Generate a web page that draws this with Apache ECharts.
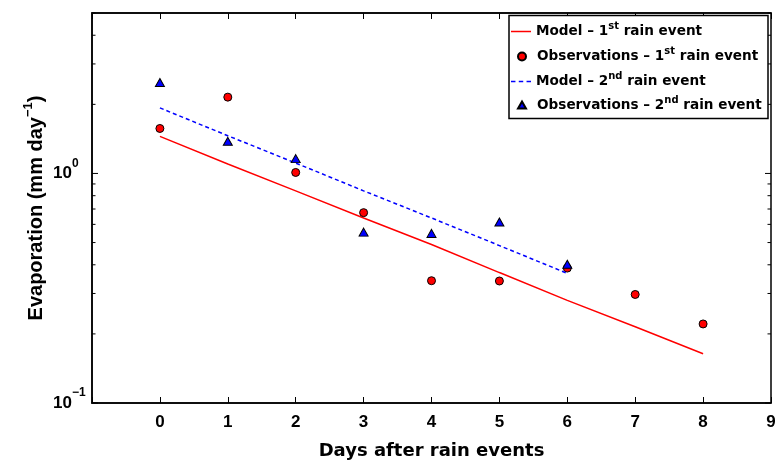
<!DOCTYPE html>
<html>
<head>
<meta charset="utf-8">
<title>Evaporation after rain events</title>
<script src="https://cdn.jsdelivr.net/npm/echarts@6/dist/echarts.min.js"></script>
<style>
  html, body { margin: 0; padding: 0; background: #fff; }
  #chart { width: 775px; height: 461px; }
</style>
</head>
<body>
<div id="chart"></div>
<script>
// Days after each rain event
const days1 = [0, 1, 2, 3, 4, 5, 6, 7, 8];
const days2 = [0, 1, 2, 3, 4, 5, 6];

// Evaporation (mm/day): model and observations, 1st rain event
const model1 = [1.45, 1.10, 0.84, 0.64, 0.49, 0.37, 0.28, 0.215, 0.164];
const obs1 = [1.57, 2.15, 1.01, 0.675, 0.341, 0.340, 0.387, 0.297, 0.221];

// Evaporation (mm/day): model and observations, 2nd rain event
const model2 = [1.93, 1.46, 1.11, 0.84, 0.64, 0.485, 0.367];
const obs2 = [2.49, 1.38, 1.16, 0.555, 0.548, 0.614, 0.402];

// Log-axis ticks (decades and the sub-decade marks)
const yTicks = [0.1, 0.2, 0.3, 0.4, 0.5, 0.6, 0.7, 0.8, 0.9, 1, 2, 3, 4, 5];
const xTicks = [0, 1, 2, 3, 4, 5, 6, 7, 8, 9];

const seriesNames = [
  'Model \u2013 1{s|st} rain event',
  'Observations \u2013 1{s|st} rain event',
  'Model \u2013 2{s|nd} rain event',
  'Observations \u2013 2{s|nd} rain event'
];

const pairs = (xs, ys) => xs.map((x, i) => [x, ys[i]]);

const FONT_T = 'DejaVu Sans';
const FONT_L = 'Liberation Sans';

// Legend keys; the leading moves pad every key to the same 20-unit width
const legendIcons = [
  'path://M0,0h20v1.5h-20z',
  'path://M0,4M20,4M6,4a4,4 0 1,0 8,0a4,4 0 1,0 -8,0z',
  'path://M0,0h4v1.5h-4zM7,0h4v1.5h-4zM14,0h4v1.5h-4z',
  'path://M0,0M20,8M10,0L14,7L6,7z'
];
const legendHeights = [1.5, 8, 1.5, 8];

const legendText = {
  fontFamily: FONT_T, fontWeight: 'bold', fontSize: 13.6, color: '#000', lineHeight: 20,
  rich: {
    s: { fontFamily: FONT_T, fontWeight: 'bold', fontSize: 10, lineHeight: 10, verticalAlign: 'top', color: '#000' }
  }
};
const rowCenters = [31.5, 56.5, 81.5, 105.5];
const legends = seriesNames.map((n, i) => ({
  data: [{ name: n, icon: legendIcons[i] }],
  left: 511,
  top: rowCenters[i] - 10,
  orient: 'vertical',
  padding: 0,
  itemWidth: 20,
  itemHeight: legendHeights[i],
  symbolKeepAspect: false,
  selectedMode: false,
  textStyle: legendText,
  z: 10
}));

const chart = echarts.init(document.getElementById('chart'), null, { renderer: 'canvas' });

const option = {
  animation: false,
  backgroundColor: '#fff',
  grid: {
    left: 92, right: 4, top: 13, bottom: 58,
    outerBoundsMode: 'none', containLabel: false,
    show: true, borderColor: '#000', borderWidth: 1.5, backgroundColor: '#fff'
  },
  legend: legends,
  graphic: [{
    type: 'rect',
    shape: { x: 509, y: 15.5, width: 259, height: 103 },
    style: { fill: '#fff', stroke: '#000', lineWidth: 1.5 },
    z: 5
  }],
  xAxis: [{
    type: 'value', min: -1, max: 9, interval: 1,
    name: 'Days after rain events',
    nameLocation: 'middle', nameGap: 39, nameMoveOverlap: false,
    nameTextStyle: { fontFamily: FONT_T, fontWeight: 'bold', fontSize: 18, color: '#000' },
    axisLine: { show: true, onZero: false, lineStyle: { color: '#000', width: 1.5 } },
    axisTick: { show: true, inside: true, length: 6, lineStyle: { color: '#000', width: 1 } },
    axisLabel: {
      margin: 11, color: '#000', fontFamily: FONT_L, fontWeight: 'bold', fontSize: 17,
      formatter: v => (xTicks.indexOf(v) >= 0 ? String(v) : '')
    },
    splitLine: { show: false }
  }, {
    type: 'value', min: -1, max: 9, interval: 1, position: 'top',
    axisLine: { show: true, onZero: false, lineStyle: { color: '#000', width: 1.5 } },
    axisTick: { show: true, inside: true, length: 6, lineStyle: { color: '#000', width: 1 } },
    axisLabel: { show: false },
    splitLine: { show: false }
  }],
  yAxis: [{
    type: 'log', logBase: 10, min: 0.1, max: 5,
    name: 'Evaporation (mm day{s|\u22121})',
    nameLocation: 'middle', nameGap: 42, nameRotate: 90, nameMoveOverlap: false,
    nameTextStyle: {
      fontFamily: FONT_L, fontWeight: 'bold', fontSize: 20, color: '#000', lineHeight: 28,
      rich: { s: { fontFamily: FONT_L, fontWeight: 'bold', fontSize: 13, lineHeight: 13, verticalAlign: 'top' } }
    },
    axisLine: { show: true, onZero: false, lineStyle: { color: '#000', width: 1.5 } },
    axisTick: { show: false },
    axisLabel: {
      margin: 39, align: 'left', color: '#000',
      fontFamily: FONT_L, fontWeight: 'bold', fontSize: 17,
      formatter: function (v) {
        const e = Math.log10(v);
        const r = Math.round(e);
        if (Math.abs(e - r) > 1e-6) return '';
        return '{b|10}{s|' + (r < 0 ? '\u2212' + (-r) : r) + '}';
      },
      rich: {
        b: { fontFamily: FONT_L, fontWeight: 'bold', fontSize: 17, lineHeight: 32, color: '#000' },
        s: { fontFamily: FONT_L, fontWeight: 'bold', fontSize: 12, lineHeight: 12, verticalAlign: 'top', color: '#000' }
      }
    },
    splitLine: { show: false }
  }],
  series: [
    {
      // inward tick marks on the left and right edges of the log axis
      type: 'custom', name: 'yticks', silent: true, clip: false,
      data: yTicks.map(v => [-1, v]),
      encode: { x: 0, y: 1 },
      renderItem: function (params, api) {
        const v = api.value(1);
        const l = api.coord([-1, v]);
        const r = api.coord([9, v]);
        const e = Math.log10(v);
        const major = Math.abs(e - Math.round(e)) < 1e-6;
        const len = major ? 6 : 3.5;
        const st = { stroke: '#000', lineWidth: 1 };
        return {
          type: 'group',
          children: [
            { type: 'line', shape: { x1: l[0], y1: l[1], x2: l[0] + len, y2: l[1] }, style: st },
            { type: 'line', shape: { x1: r[0], y1: r[1], x2: r[0] - len, y2: r[1] }, style: st }
          ]
        };
      },
      z: 1
    },
    {
      name: seriesNames[0], type: 'line', data: pairs(days1, model1),
      symbol: 'none', lineStyle: { color: '#ff0000', width: 1.5 }, itemStyle: { color: '#ff0000' }, z: 2
    },
    {
      name: seriesNames[1], type: 'scatter', data: pairs(days1, obs1),
      symbol: 'circle', symbolSize: 8,
      itemStyle: { color: '#ff0000', borderColor: '#000', borderWidth: 1, opacity: 1 }, z: 3
    },
    {
      name: seriesNames[2], type: 'line', data: pairs(days2, model2),
      symbol: 'none', lineStyle: { color: '#0000ff', width: 1.5, type: [4, 3] }, itemStyle: { color: '#0000ff' }, z: 4
    },
    {
      name: seriesNames[3], type: 'scatter', data: pairs(days2, obs2),
      symbol: 'triangle', symbolSize: [9, 8],
      itemStyle: { color: '#0000ff', borderColor: '#000', borderWidth: 1, opacity: 1 }, z: 5
    }
  ]
};

chart.setOption(option);
</script>
</body>
</html>
